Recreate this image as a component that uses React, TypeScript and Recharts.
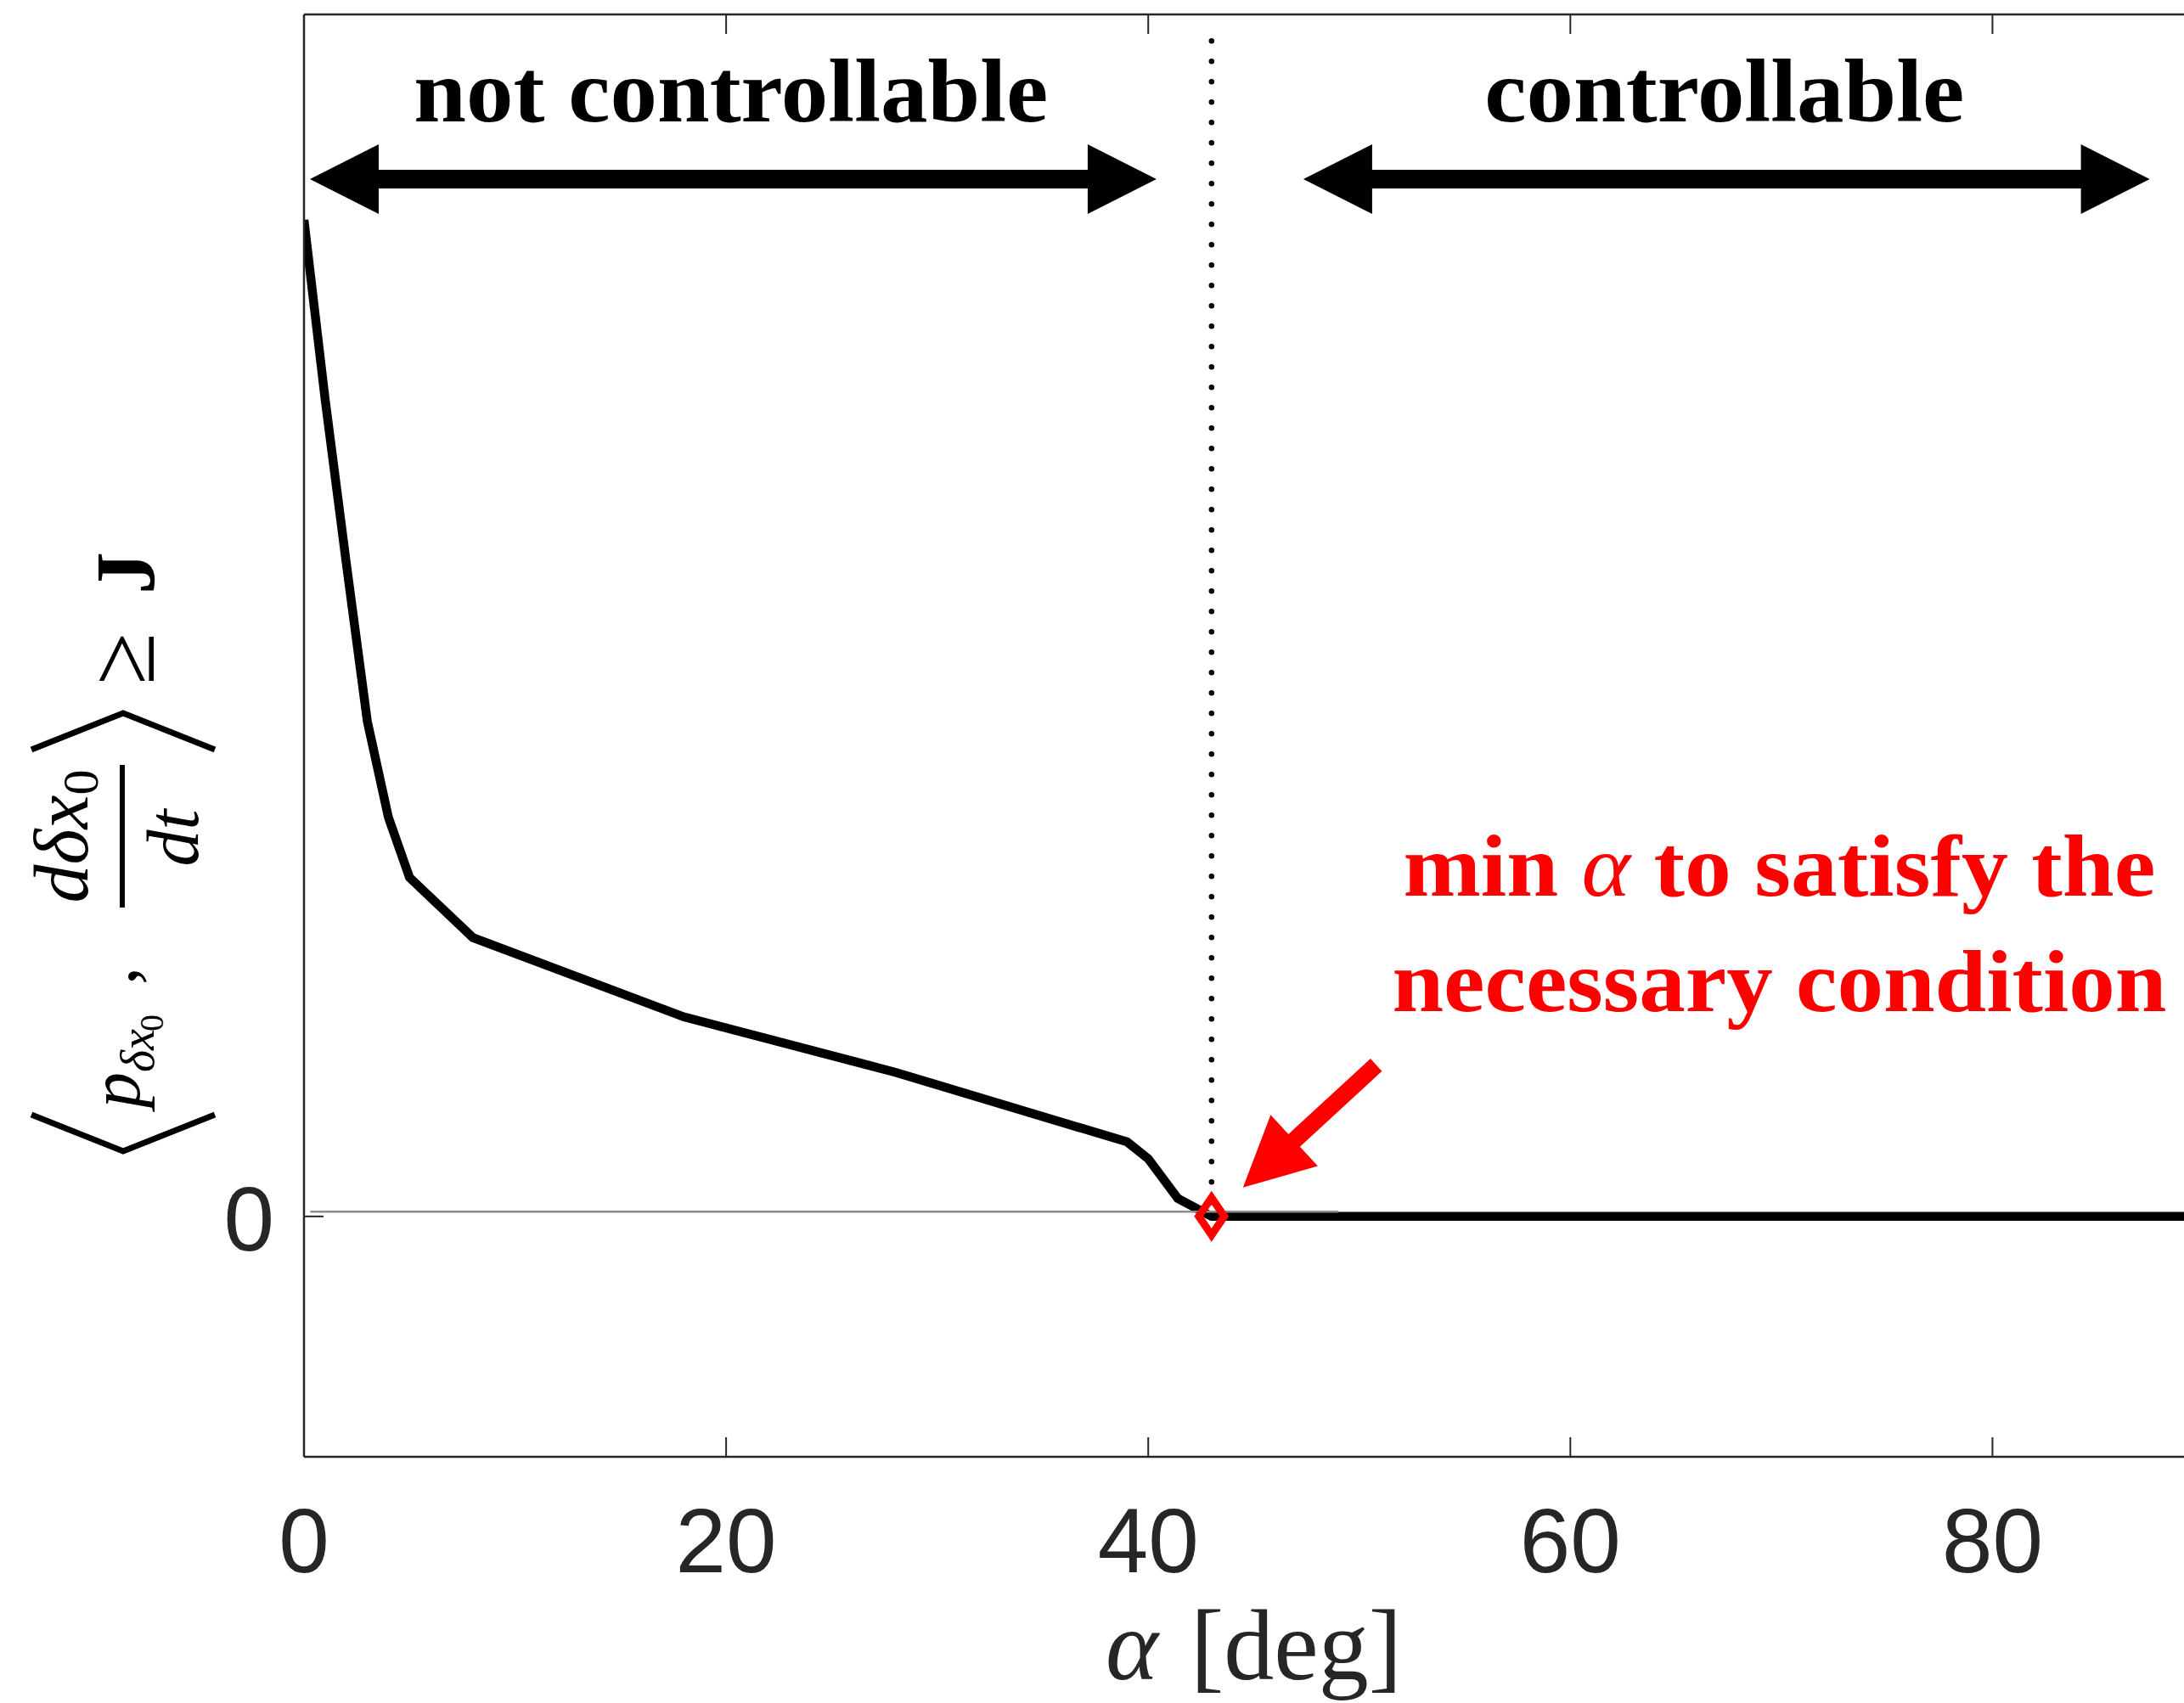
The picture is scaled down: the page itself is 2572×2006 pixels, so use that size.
import React from 'react';
import {
    ComposedChart, Line, Scatter, XAxis, YAxis, ReferenceLine, ReferenceDot,
} from 'recharts';

// curve: alpha [deg] vs <p, d(dx0)/dt> >= J
const alphaDeg = [0, 1, 2, 3, 4, 5, 8, 18, 28, 39, 40, 41.4, 43, 90];
const objective = [0.829, 0.68, 0.544, 0.412, 0.332, 0.282, 0.232, 0.166, 0.12, 0.062, 0.048, 0.015, 0, 0];

// thin gray reference line
const refAlpha = [0.3, 49];
const refValue = [0.004, 0.004];

// min alpha marker
const minAlpha = [43];
const minValue = [0];

const xTicks = [0, 20, 40, 60, 80];
const yTicks = [0];

// annotations (data units)
const regionArrowY = 0.863;
const notCtrlArrow = [0.28, 40.39];
const ctrlArrow = [47.35, 87.45];
const regionTextY = 0.911;
const notCtrlTextX = 20.23;
const ctrlTextX = 67.3;
const noteX = 69.9;
const noteY = [0.267, 0.171];
const noteArrowFrom = { x: 50.8, y: 0.126 };
const noteArrowTo = { x: 44.49, y: 0.024 };
const dividerTop = 0.978;

const curveData = alphaDeg.map((a, i) => ({ a, j: objective[i] }));
const refData = refAlpha.map((a, i) => ({ a, j: refValue[i] }));
const minData = minAlpha.map((a, i) => ({ a, j: minValue[i] }));

const AXIS = '#262626';
const SANS = '"Liberation Sans", Arial, sans-serif';
const SERIF = '"Liberation Serif", "Times New Roman", serif';

const arrowPoints = (x1: number, y1: number, x2: number, y2: number, shaft: number, headLen: number, headHalf: number, both: boolean) => {
    const dx = x2 - x1, dy = y2 - y1;
    const L = Math.hypot(dx, dy);
    const ux = dx / L, uy = dy / L;
    const nx = -uy, ny = ux;
    const pt = (a: number, b: number) => `${x1 + ux * a + nx * b},${y1 + uy * a + ny * b}`;
    const s = shaft / 2;
    const pts = both
        ? [pt(0, 0), pt(headLen, headHalf), pt(headLen, s), pt(L - headLen, s), pt(L - headLen, headHalf), pt(L, 0),
            pt(L - headLen, -headHalf), pt(L - headLen, -s), pt(headLen, -s), pt(headLen, -headHalf)]
        : [pt(0, s), pt(L - headLen, s), pt(L - headLen, headHalf), pt(L, 0), pt(L - headLen, -headHalf), pt(L - headLen, -s), pt(0, -s)];
    return pts.join(' ');
};

const DoubleArrow = (p: any) => (
    <polygon points={arrowPoints(p.x1, p.y1, p.x2, p.y2, 22, 81, 41, true)} fill="#000" />
);

const RedArrow = (p: any) => (
    <polygon points={arrowPoints(p.x1, p.y1, p.x2, p.y2, 20, 82, 41, false)} fill="#ff0000" />
);

const DottedLine = (p: any) => (
    <line x1={p.x1} y1={p.y1} x2={p.x2} y2={p.y2} stroke="#000" strokeWidth={6.5}
        strokeDasharray="0 24" strokeLinecap="round" />
);

const Diamond = (p: any) => {
    const { cx, cy } = p;
    return (
        <polygon points={`${cx},${cy - 22} ${cx + 15},${cy} ${cx},${cy + 22} ${cx - 15},${cy}`}
            fill="none" stroke="#ff0000" strokeWidth={9} strokeLinejoin="miter" />
    );
};

const regionText = (label: string, len: number) => (p: any) => (
    <text x={p.cx} y={p.cy} textAnchor="middle" fontFamily={SERIF} fontWeight="bold" fontSize={105}
        fill="#000" textLength={len} lengthAdjust="spacingAndGlyphs">{label}</text>
);

const NoteLine1 = (p: any) => (
    <text x={p.cx} y={p.cy} textAnchor="middle" fontFamily={SERIF} fontWeight="bold" fontSize={104}
        fill="#ff0000" textLength={886} lengthAdjust="spacingAndGlyphs">
        min <tspan fontStyle="italic" fontWeight="normal">α</tspan> to satisfy the
    </text>
);

const NoteLine2 = (p: any) => (
    <text x={p.cx} y={p.cy} textAnchor="middle" fontFamily={SERIF} fontWeight="bold" fontSize={104}
        fill="#ff0000" textLength={912} lengthAdjust="spacingAndGlyphs">
        necessary condition
    </text>
);

const XTick = (p: any) => (
    <text x={p.x} y={p.y + 136} textAnchor="middle" fontFamily={SANS} fontSize={107} fill={AXIS}>
        {p.payload.value}
    </text>
);

const YTick = (p: any) => (
    <text x={p.x - 35} y={p.y + 40} textAnchor="end" fontFamily={SANS} fontSize={107} fill={AXIS}>
        {p.payload.value}
    </text>
);

const NoTick = () => <g />;

const XLabel = (p: any) => {
    const vb = p.viewBox;
    const cx = vb.x + vb.width / 2;
    return (
        <text x={cx} y={vb.y + 262} textAnchor="middle" fontFamily={SERIF} fontSize={118} fill={AXIS}>
            <tspan fontStyle="italic">α</tspan>
            <tspan dx={38}>[deg]</tspan>
        </text>
    );
};

const YLabel = (p: any) => {
    const vb = p.viewBox;
    const cx = vb.x + vb.width - 213;
    const cy = vb.y + 991;
    return (
        <g transform={`translate(${cx},${cy}) rotate(-90)`} fontFamily={SERIF} fill="#000">
            <path d="M -305 -108 L -348 0 L -305 108" stroke="#000" strokeWidth={7} fill="none" />
            <text x={-297} y={19} fontSize={84} fontStyle="italic">p</text>
            <text x={-255} y={36} fontSize={56} fontStyle="italic">δx</text>
            <text x={-207} y={47} fontSize={40}>0</text>
            <text x={-152} y={15} fontSize={84}>,</text>
            <text x={23} y={-42} fontSize={90} fontStyle="italic" textAnchor="middle">
                dδx<tspan fontSize={60} fontStyle="normal" dy={12}>0</tspan>
            </text>
            <line x1={-61} y1={-1} x2={107} y2={-1} stroke="#000" strokeWidth={6} />
            <text x={21} y={88} fontSize={86} fontStyle="italic" textAnchor="middle">dt</text>
            <path d="M 125 -108 L 168 0 L 125 108" stroke="#000" strokeWidth={7} fill="none" />
            <text x={232} y={36} fontSize={112} textAnchor="middle">≥</text>
            <text x={308} y={36} fontSize={100} fontWeight="bold">J</text>
        </g>
    );
};

const App: React.FC = () => {
    return (
        <div style={{ position: 'fixed', left: 0, top: 0, width: 2572, height: 2006, overflow: 'hidden', background: '#fff' }}>
            <ComposedChart width={2700} height={2006} margin={{ top: 7, right: 105, left: 298, bottom: 230 }}>
                <XAxis dataKey="a" type="number" domain={[0, 90]} ticks={xTicks} allowDataOverflow
                    height={60} tickSize={-23} tickMargin={23} tick={XTick}
                    axisLine={{ stroke: AXIS, strokeWidth: 2.5 }} tickLine={{ stroke: AXIS, strokeWidth: 2 }}
                    label={XLabel} />
                <XAxis xAxisId="top" orientation="top" dataKey="a" type="number" domain={[0, 90]} ticks={xTicks}
                    allowDataOverflow height={10} tickSize={-23} tickMargin={0} tick={NoTick}
                    axisLine={{ stroke: AXIS, strokeWidth: 2.5 }} tickLine={{ stroke: AXIS, strokeWidth: 2 }} />
                <YAxis dataKey="j" type="number" domain={[-0.2, 1]} ticks={yTicks} allowDataOverflow
                    width={60} tickSize={-23} tickMargin={23} tick={YTick}
                    axisLine={{ stroke: AXIS, strokeWidth: 2.5 }} tickLine={{ stroke: AXIS, strokeWidth: 2 }}
                    label={YLabel} />

                <ReferenceLine segment={[{ x: minAlpha[0], y: dividerTop }, { x: minAlpha[0], y: 0 }]} shape={DottedLine} />

                <Line data={curveData} dataKey="j" type="linear" stroke="#000" strokeWidth={10.5}
                    strokeLinejoin="miter" dot={false} activeDot={false} isAnimationActive={false} />
                <Line data={refData} dataKey="j" type="linear" stroke="#8c8c8c" strokeWidth={2.5}
                    dot={false} activeDot={false} isAnimationActive={false} />
                <Scatter data={minData} dataKey="j" shape={Diamond} isAnimationActive={false} />

                <ReferenceLine segment={[{ x: notCtrlArrow[0], y: regionArrowY }, { x: notCtrlArrow[1], y: regionArrowY }]} shape={DoubleArrow} />
                <ReferenceLine segment={[{ x: ctrlArrow[0], y: regionArrowY }, { x: ctrlArrow[1], y: regionArrowY }]} shape={DoubleArrow} />
                <ReferenceDot x={notCtrlTextX} y={regionTextY} r={0} shape={regionText('not controllable', 747)} />
                <ReferenceDot x={ctrlTextX} y={regionTextY} r={0} shape={regionText('controllable', 565)} />

                <ReferenceDot x={noteX} y={noteY[0]} r={0} shape={NoteLine1} />
                <ReferenceDot x={noteX} y={noteY[1]} r={0} shape={NoteLine2} />
                <ReferenceLine segment={[noteArrowFrom, noteArrowTo]} shape={RedArrow} />
            </ComposedChart>
        </div>
    );
};

export default App;
